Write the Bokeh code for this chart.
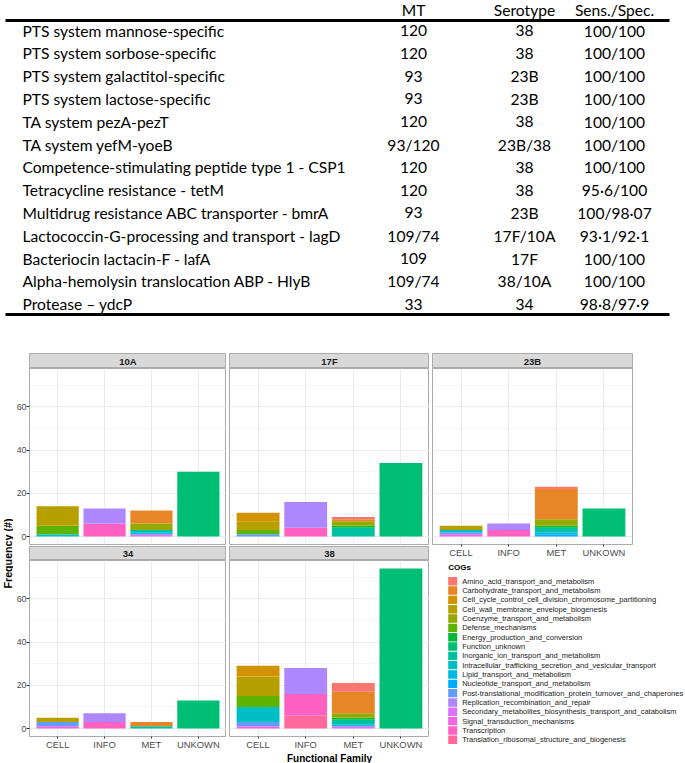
import math
from bokeh.plotting import figure
from bokeh.layouts import row, column
from bokeh.models import ColumnDataSource, Range1d, FactorRange, FixedTicker
from bokeh.embed import file_html
from bokeh.resources import INLINE
from bokeh.core.properties import value

# ---------------- table data ----------------
table_header = ["MT", "Serotype", "Sens./Spec."]
genes = ["PTS system mannose-specific", "PTS system sorbose-specific",
         "PTS system galactitol-specific", "PTS system lactose-specific",
         "TA system pezA-pezT", "TA system yefM-yoeB",
         "Competence-stimulating peptide type 1 - CSP1",
         "Tetracycline resistance - tetM",
         "Multidrug resistance ABC transporter - bmrA",
         "Lactococcin-G-processing and transport - lagD",
         "Bacteriocin lactacin-F - lafA",
         "Alpha-hemolysin translocation ABP - HlyB",
         "Protease \u2013 ydcP"]
mt = ["120", "120", "93", "93", "120", "93/120", "120", "120", "93",
      "109/74", "109", "109/74", "33"]
serotype = ["38", "38", "23B", "23B", "38", "23B/38", "38", "38", "23B",
            "17F/10A", "17F", "38/10A", "34"]
sens_spec = ["100/100", "100/100", "100/100", "100/100", "100/100", "100/100",
             "100/100", "95\u00b76/100", "100/98\u00b707", "93\u00b71/92\u00b71",
             "100/100", "100/100", "98\u00b78/97\u00b79"]

# ---------------- chart data ----------------
families = ["CELL", "INFO", "MET", "UNKOWN"]
cogs = ["Amino_acid_transport_and_metabolism",
        "Carbohydrate_transport_and_metabolism",
        "Cell_cycle_control_cell_division_chromosome_partitioning",
        "Cell_wall_membrane_envelope_biogenesis",
        "Coenzyme_transport_and_metabolism",
        "Defense_mechanisms",
        "Energy_production_and_conversion",
        "Function_unknown",
        "Inorganic_ion_transport_and_metabolism",
        "Intracellular_trafficking_secretion_and_vesicular_transport",
        "Lipid_transport_and_metabolism",
        "Nucleotide_transport_and_metabolism",
        "Post-translational_modification_protein_turnover_and_chaperones",
        "Replication_recombination_and_repair",
        "Secondary_metabolites_biosynthesis_transport_and_catabolism",
        "Signal_transduction_mechanisms",
        "Transcription",
        "Translation_ribosomal_structure_and_biogenesis"]

# (family, index into cogs, count)
counts_10A = [("CELL", 3, 9), ("CELL", 5, 4), ("CELL", 9, 1),
              ("INFO", 13, 7), ("INFO", 16, 6),
              ("MET", 1, 6), ("MET", 4, 3), ("MET", 8, 1), ("MET", 10, 1), ("MET", 14, 1),
              ("UNKOWN", 7, 30)]
counts_17F = [("CELL", 2, 4), ("CELL", 3, 4), ("CELL", 5, 2), ("CELL", 12, 1),
              ("INFO", 13, 12), ("INFO", 16, 4),
              ("MET", 0, 1), ("MET", 1, 1), ("MET", 4, 2), ("MET", 6, 1), ("MET", 8, 4),
              ("UNKOWN", 7, 34)]
counts_23B = [("CELL", 3, 2), ("CELL", 9, 1), ("CELL", 12, 1), ("CELL", 15, 1),
              ("INFO", 13, 3), ("INFO", 16, 3),
              ("MET", 0, 1), ("MET", 1, 14), ("MET", 4, 3), ("MET", 6, 1), ("MET", 8, 2),
              ("MET", 10, 1), ("MET", 11, 1),
              ("UNKOWN", 7, 13)]
counts_34 = [("CELL", 3, 2), ("CELL", 12, 2), ("CELL", 15, 1),
             ("INFO", 13, 4), ("INFO", 16, 3),
             ("MET", 1, 2), ("MET", 8, 1),
             ("UNKOWN", 7, 13)]
counts_38 = [("CELL", 2, 5), ("CELL", 3, 9), ("CELL", 5, 5), ("CELL", 9, 7), ("CELL", 12, 2),
             ("CELL", 15, 1),
             ("INFO", 13, 12), ("INFO", 16, 10), ("INFO", 17, 6),
             ("MET", 0, 4), ("MET", 1, 10), ("MET", 4, 2), ("MET", 6, 1), ("MET", 8, 2),
             ("MET", 10, 1), ("MET", 14, 1),
             ("UNKOWN", 7, 74)]

facet_order = ["10A", "17F", "23B", "34", "38"]
y_ticks = [0, 20, 40, 60]
y_minor_ticks = [10, 30, 50, 70]
y_title = "Frequency (#)"
x_title = "Functional Family"
legend_title = "COGs"


def hcl_hex(h, c=100.0, l=65.0):
    hr = math.radians(h)
    u, v = c * math.cos(hr), c * math.sin(hr)
    Xn, Yn, Zn = 95.047, 100.0, 108.883
    Y = Yn * ((l + 16) / 116) ** 3
    d = Xn + 15 * Yn + 3 * Zn
    un, vn = 4 * Xn / d, 9 * Yn / d
    up, vp = u / (13 * l) + un, v / (13 * l) + vn
    X = 9.0 * Y * up / (4 * vp)
    Z = -X / 3 - 5 * Y + 3 * Y / vp
    x, y, z = X / 100, Y / 100, Z / 100
    rgb = [3.240479 * x - 1.537150 * y - 0.498535 * z,
           -0.969256 * x + 1.875992 * y + 0.041556 * z,
           0.055648 * x - 0.204043 * y + 1.057311 * z]
    out = []
    for ch in rgb:
        ch = 12.92 * ch if ch <= 0.0031308 else 1.055 * ch ** (1 / 2.4) - 0.055
        out.append(int(round(min(1, max(0, ch)) * 255)))
    return "#%02X%02X%02X" % tuple(out)


n = len(cogs)
colors = [hcl_hex(15 + (360 - 360 / n) * i / (n - 1)) for i in range(n)]

FONT = "Liberation Sans"


def make_source(counts):
    data = {"family": list(families)}
    for c in cogs:
        data[c] = [0] * len(families)
    for fam, ci, k in counts:
        data[cogs[ci]][families.index(fam)] += k
    return ColumnDataSource(data)


all_counts = [counts_10A, counts_17F, counts_23B, counts_34, counts_38]


def max_total(counts):
    t = {f: 0 for f in families}
    for fam, ci, k in counts:
        t[fam] += k
    return max(t.values())


ymax = max(max_total(c) for c in all_counts)
pad = 0.05 * ymax

FW, FH = 200, 176  # frame size of each panel


def base_fig(width, height, **kw):
    return figure(width=width, height=height, toolbar_location=None, output_backend="svg",
                  background_fill_color="white", border_fill_color="white", **kw)


def panel_fig(counts, left, right, bottom, show_x, show_y):
    p = base_fig(left + FW + right, FH + bottom,
                 x_range=FactorRange(factors=families, range_padding=0.05,
                                     range_padding_units="percent"),
                 y_range=Range1d(-pad, ymax + pad),
                 min_border_left=left, min_border_right=right, min_border_top=0,
                 min_border_bottom=bottom,
                 x_axis_location="below" if show_x else None,
                 y_axis_location="left" if show_y else None,
                 outline_line_color="#ABABAB", outline_line_width=1)
    p.xgrid.grid_line_color = "#EBEBEB"
    p.xgrid.grid_line_width = 1
    p.ygrid.ticker = FixedTicker(ticks=y_ticks, minor_ticks=y_minor_ticks)
    p.ygrid.grid_line_color = "#EBEBEB"
    p.ygrid.grid_line_width = 1
    p.ygrid.minor_grid_line_color = "#EBEBEB"
    p.ygrid.minor_grid_line_width = 0.5
    src = make_source(counts)
    p.vbar_stack(stackers=cogs[::-1], x="family", width=0.9, source=src,
                 fill_color=colors[::-1], line_color=None)
    if show_y:
        ax = p.yaxis[0]
        ax.ticker = FixedTicker(ticks=y_ticks)
        ax.axis_line_color = None
        ax.major_tick_line_color = "#333333"
        ax.major_tick_out = 3
        ax.major_tick_in = 0
        ax.minor_tick_line_color = None
        ax.major_label_standoff = 0
        ax.major_label_text_font = FONT
        ax.major_label_text_font_size = "8.9px"
        ax.major_label_text_color = "#4D4D4D"
    if show_x:
        ax = p.xaxis[0]
        ax.axis_line_color = None
        ax.major_tick_line_color = "#333333"
        ax.major_tick_out = 2
        ax.major_tick_in = 0
        ax.major_label_standoff = 0
        ax.major_label_text_font = FONT
        ax.major_label_text_font_size = "9.4px"
        ax.major_label_text_color = "#4D4D4D"
    return p


def strip_fig(label, left, right, height):
    s = base_fig(left + FW + right, height, x_range=Range1d(0, 1), y_range=Range1d(0, 1),
                 min_border_left=left, min_border_right=right, min_border_top=0,
                 min_border_bottom=0, x_axis_location=None, y_axis_location=None,
                 outline_line_color="#ABABAB", outline_line_width=1)
    s.background_fill_color = "#D9D9D9"
    s.grid.visible = False
    s.text(x=[0.5], y=[0.45], text=[label], text_align="center", text_baseline="middle",
           text_font=value(FONT), text_font_style="bold", text_font_size="9.5px",
           text_color="#1A1A1A")
    return s


def blank_fig(width, height, left=0, right=0):
    b = base_fig(width, height, x_range=Range1d(0, width - left - right),
                 y_range=Range1d(height, 0),
                 min_border_left=left, min_border_right=right, min_border_top=0,
                 min_border_bottom=0, x_axis_location=None, y_axis_location=None,
                 outline_line_color=None)
    b.grid.visible = False
    return b


# ---------------- table ----------------
W = 685
TH = 353
tf = blank_fig(W, TH)
row_y = [30 + 22.8 * i for i in range(len(genes))]
col_x = [413, 524, 614]
tstyle = dict(text_font=value("Lato"), text_font_size="15.6px", text_color="black",
              text_baseline="middle")
tf.text(x=[22] * len(genes), y=row_y, text=genes, text_align="left", **tstyle)
for cx, vals in zip(col_x, [mt, serotype, sens_spec]):
    tf.text(x=[cx] * len(vals), y=row_y, text=vals, text_align="center", **tstyle)
tf.text(x=col_x, y=[9.5] * 3, text=table_header, text_align="center", **tstyle)
tf.segment(x0=[5, 5], y0=[20, 314], x1=[669, 669], y1=[20, 314],
           line_color="black", line_width=3)

# ---------------- chart ----------------
CH = 410
LABW = 13
lab = blank_fig(LABW, CH)
lab.text(x=[7.5], y=[200], text=[y_title], angle=math.pi / 2, text_align="center",
         text_baseline="middle", text_font=value(FONT), text_font_style="bold",
         text_font_size="10.7px", text_color="black")

L1, L2, L3, R3 = 13, 3, 3, 53
XB = 16   # room below panels for the category labels
col1 = column(
    strip_fig(facet_order[0], L1, 0, 15),
    panel_fig(counts_10A, L1, 0, 2, False, True),
    strip_fig(facet_order[3], L1, 0, 14),
    panel_fig(counts_34, L1, 0, XB, True, True),
    blank_fig(L1 + FW, 11, left=L1),
    spacing=0)

xl = blank_fig(L2 + FW, 11, left=L2)
xl.text(x=[FW / 2], y=[5.2], text=[x_title], text_align="center",
        text_baseline="middle",
        text_font=value(FONT), text_font_style="bold", text_font_size="10px",
        text_color="black")
col2 = column(
    strip_fig(facet_order[1], L2, 0, 15),
    panel_fig(counts_17F, L2, 0, 2, False, False),
    strip_fig(facet_order[4], L2, 0, 14),
    panel_fig(counts_38, L2, 0, XB, True, False),
    xl,
    spacing=0)

LW, LH = L3 + FW + R3, CH - 15 - (FH + XB)
leg = blank_fig(LW, LH)
ent_y = [20.7 + 9.33 * i for i in range(n)]
leg.quad(left=[18.7] * n, right=[27.7] * n, top=[y - 4.2 for y in ent_y],
         bottom=[y + 4.2 for y in ent_y], fill_color=colors, line_color=None)
leg.text(x=[32.7] * n, y=ent_y, text=cogs, text_align="left", text_baseline="middle",
         text_font=value(FONT), text_font_size="7.5px", text_color="#1A1A1A")
leg.text(x=[18.7], y=[7.3], text=[legend_title], text_align="left", text_baseline="middle",
         text_font=value(FONT), text_font_style="bold", text_font_size="8px",
         text_color="black")
col3 = column(
    strip_fig(facet_order[2], L3, R3, 15),
    panel_fig(counts_23B, L3, R3, XB, True, False),
    row(leg, spacing=0),
    spacing=0)

layout = column(tf, row(lab, col1, col2, col3, spacing=0), spacing=0)

open("out.html", "w").write(file_html(layout, INLINE))
